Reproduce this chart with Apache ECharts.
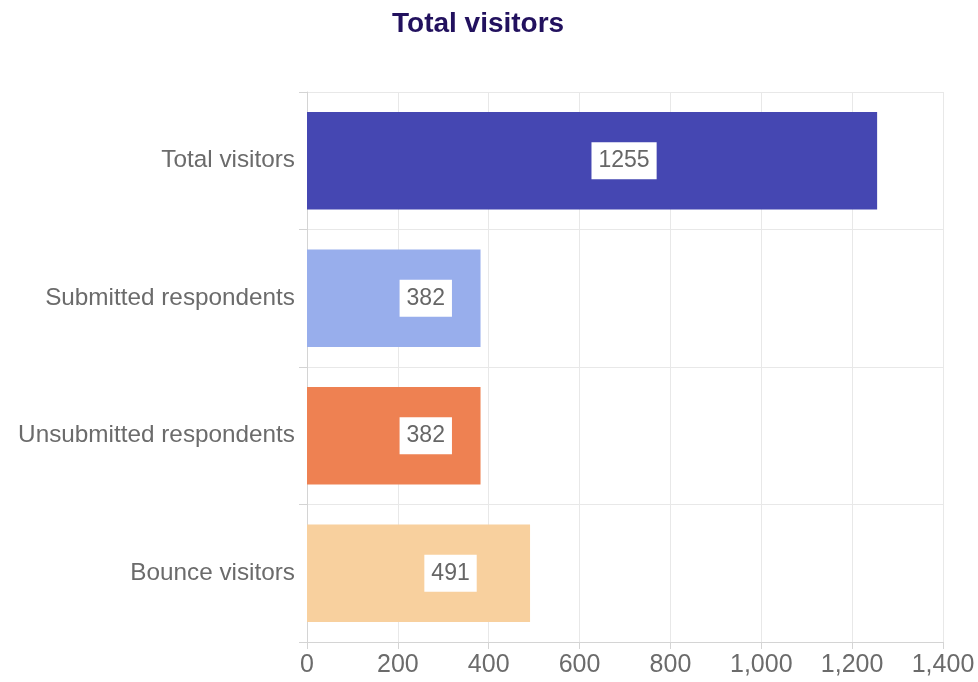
<!DOCTYPE html>
<html>
<head>
<meta charset="utf-8">
<script src="https://cdn.jsdelivr.net/npm/echarts@6/dist/echarts.min.js"></script>
<style>html,body{margin:0;padding:0;background:#fff;}#c{width:978px;height:682px;}</style>
</head>
<body>
<div id="c"></div>
<script>
const titleText = 'Total visitors';
const categories = ['Total visitors', 'Submitted respondents', 'Unsubmitted respondents', 'Bounce visitors'];
const values = [1255, 382, 382, 491];
const barColors = ['#4547B2', '#98AEEC', '#EE8152', '#F8D09E'];
const xTicks = [0, 200, 400, 600, 800, 1000, 1200, 1400];

const chart = echarts.init(document.getElementById('c'));
const font = 'Arial, "Liberation Sans", sans-serif';
chart.setOption({
  animation: false,
  backgroundColor: '#fff',
  title: {
    text: titleText, left: 387, top: 5,
    textStyle: { fontSize: 28, fontWeight: 'bold', color: '#22115E', fontFamily: font }
  },
  grid: { left: 307, right: 35, top: 92, bottom: 40, containLabel: false },
  xAxis: {
    type: 'value', min: xTicks[0], max: xTicks[xTicks.length - 1], interval: 200,
    axisLine: { show: true, lineStyle: { color: '#d4d4d4' } },
    axisTick: { show: true, length: 7, lineStyle: { color: '#d4d4d4' } },
    splitLine: { show: true, lineStyle: { color: '#e8e8e8' } },
    axisLabel: {
      fontSize: 25, color: '#6b6b6b', fontFamily: font, margin: 11,
      formatter: v => v.toLocaleString('en-US')
    }
  },
  yAxis: {
    type: 'category', data: categories, inverse: true,
    axisLine: { show: true, lineStyle: { color: '#d4d4d4' } },
    axisTick: { show: true, length: 8, lineStyle: { color: '#d4d4d4' } },
    splitLine: { show: true, lineStyle: { color: '#e8e8e8' } },
    axisLabel: { fontSize: 24.3, color: '#6b6b6b', fontFamily: font, margin: 12 }
  },
  series: [{
    type: 'bar',
    barCategoryGap: '29%',
    data: values.map((v, i) => ({ value: v, itemStyle: { color: barColors[i] } })),
    label: {
      show: true, position: 'inside', offset: [32, 0],
      backgroundColor: '#fff', padding: [7, 7, 7, 7],
      color: '#666', fontSize: 23, fontFamily: font
    }
  }]
});
</script>
</body>
</html>
